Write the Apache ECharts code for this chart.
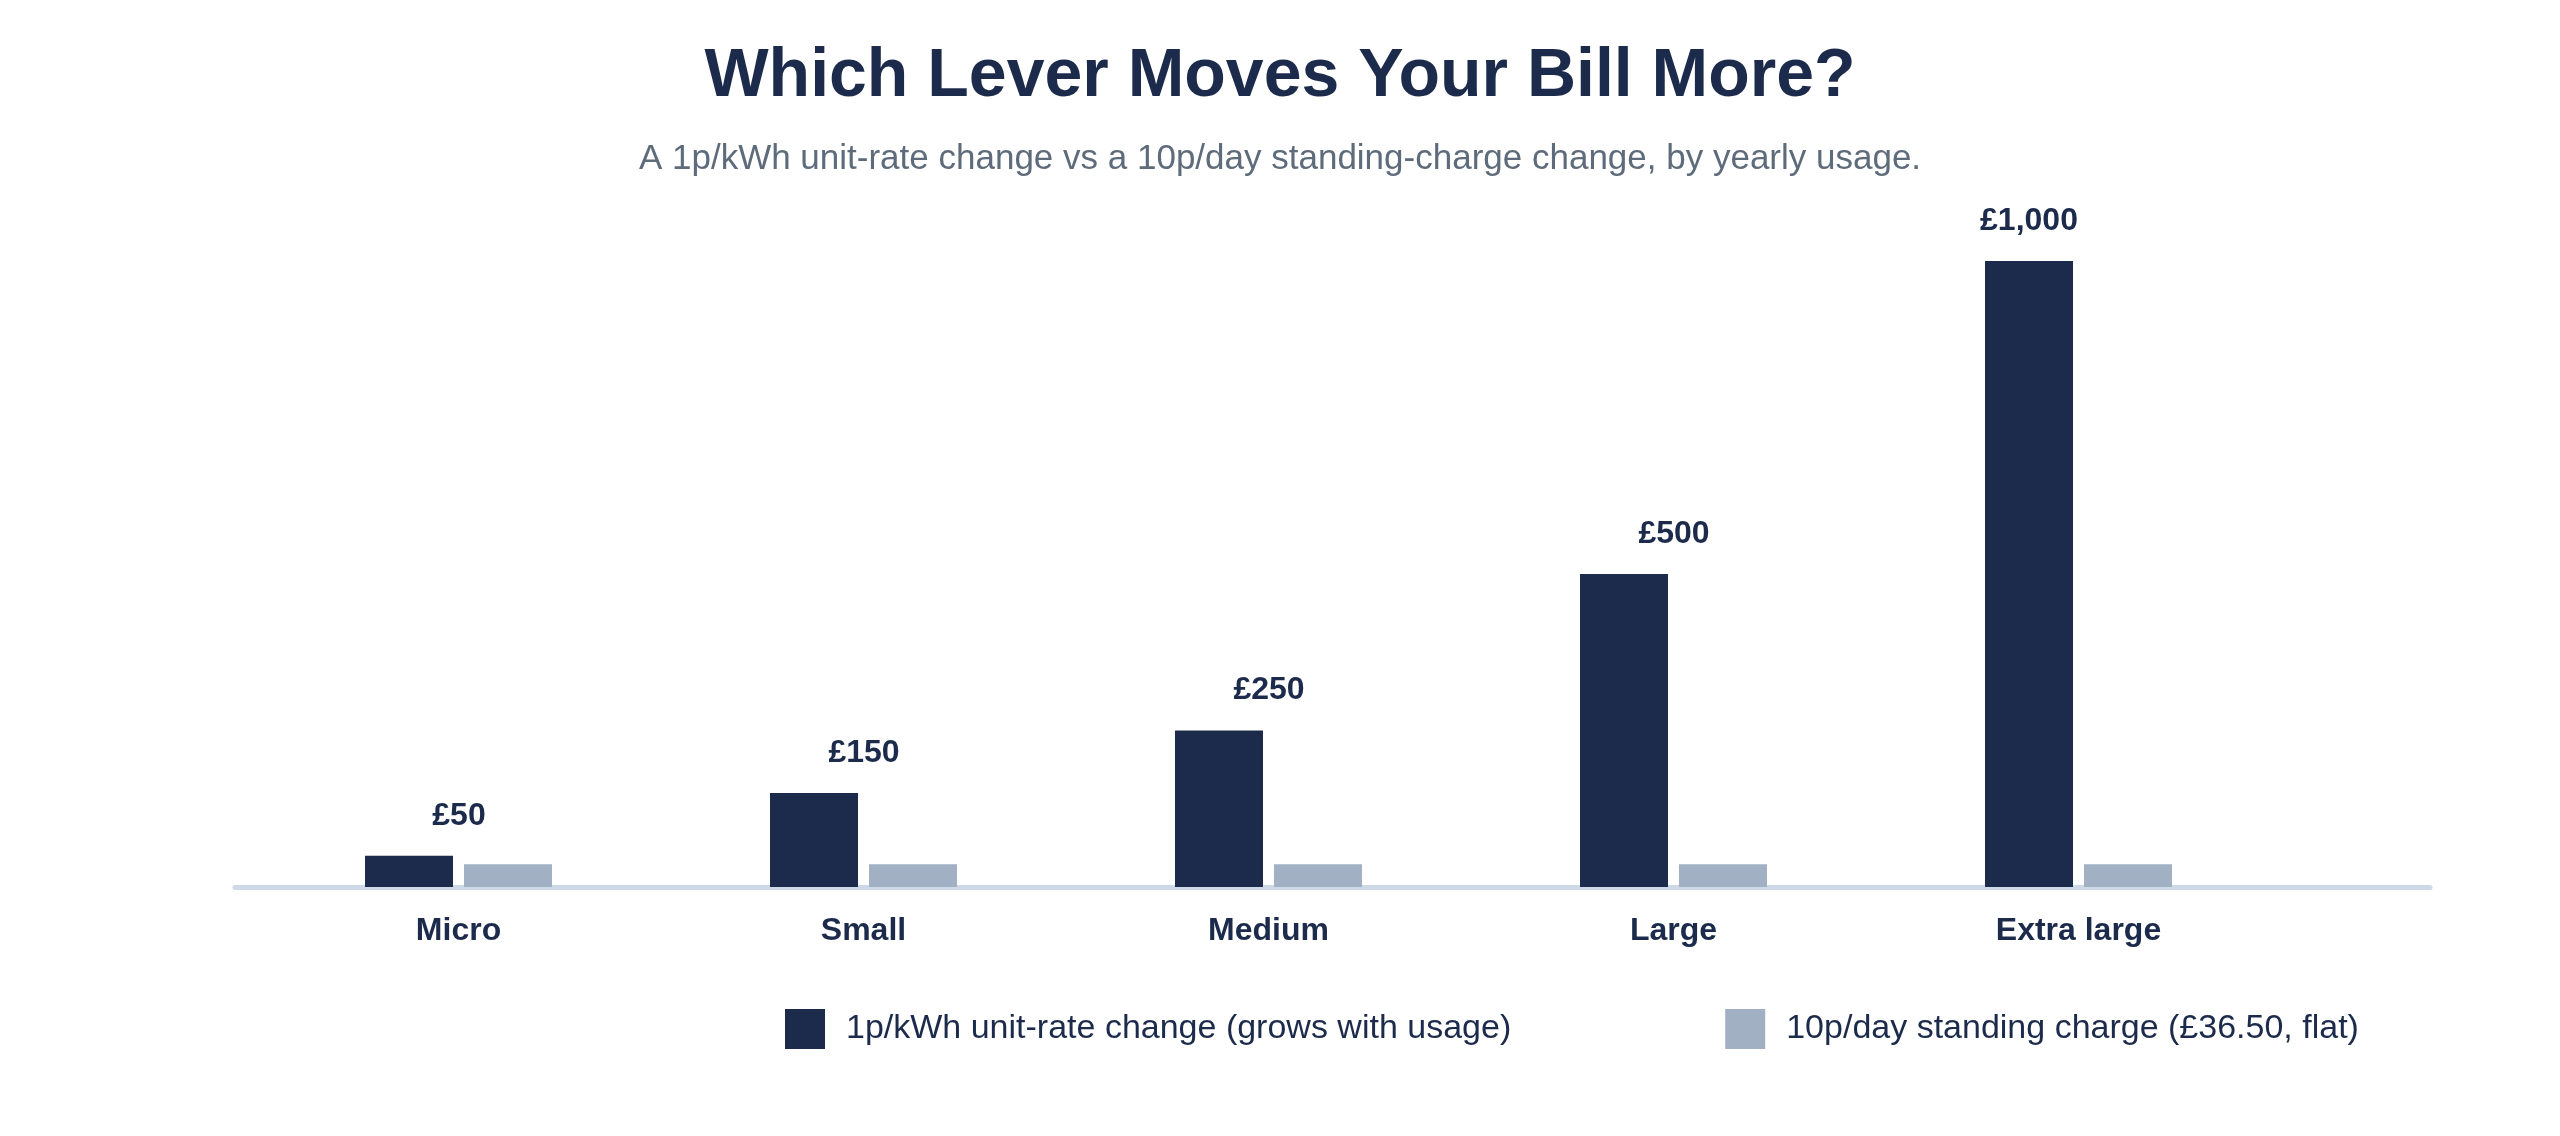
<!DOCTYPE html>
<html>
<head>
<meta charset="utf-8">
<title>Which Lever Moves Your Bill More?</title>
<script src="https://cdn.jsdelivr.net/npm/echarts@6/dist/echarts.min.js"></script>
<style>
  html, body { margin: 0; padding: 0; background: #ffffff; }
  #chart { width: 2560px; height: 1136px; }
</style>
</head>
<body>
<div id="chart"></div>
<script>
const categories = ['Micro', 'Small', 'Medium', 'Large', 'Extra large'];
const unitRateChange = [50, 150, 250, 500, 1000];
const standingCharge = [36.5, 36.5, 36.5, 36.5, 36.5];
const seriesNames = [
  '1p/kWh unit-rate change (grows with usage)',
  '10p/day standing charge (£36.50, flat)'
];

const NAVY = '#1c2b4b';
const SLATE = '#a1b0c2';
const FONT = '"Liberation Sans", Arial, sans-serif';

const chart = echarts.init(document.getElementById('chart'));

// labels sit over the pair centre, except the tallest one which sits over its own bar
const unitRateData = unitRateChange.map(function (v, i) {
  if (i === unitRateChange.length - 1) {
    return { value: v, label: { offset: [0, 0] } };
  }
  return v;
});

const option = {
  backgroundColor: '#ffffff',
  textStyle: { fontFamily: FONT },
  title: [{
    text: 'Which Lever Moves Your Bill More?',
    left: 'center',
    top: 38,
    textStyle: { fontSize: 68, fontWeight: 'bold', color: NAVY, fontFamily: FONT }
  }, {
    text: 'A 1p/kWh unit-rate change vs a 10p/day standing-charge change, by yearly usage.',
    left: 'center',
    top: 137,
    textStyle: { fontSize: 35, fontWeight: 'normal', color: '#5e6b7b', fontFamily: FONT }
  }],
  color: [NAVY, SLATE],
  legend: {
    data: seriesNames,
    left: 780,
    top: 1004,
    itemWidth: 40,
    itemHeight: 40,
    itemGap: 214,
    icon: 'rect',
    textStyle: { fontSize: 34, color: NAVY, fontFamily: FONT, padding: [0, 0, 0, 16] }
  },
  grid: [{
    left: 256,
    right: 279,
    top: 261,
    bottom: 249
  }, {
    // wider grid that only carries the baseline
    left: 235,
    right: 130,
    top: 261,
    bottom: 249
  }],
  xAxis: [{
    gridIndex: 0,
    type: 'category',
    data: categories,
    axisLine: { show: false },
    axisTick: { show: false },
    axisLabel: {
      margin: 28,
      fontSize: 32,
      fontWeight: 'bold',
      color: NAVY,
      fontFamily: FONT
    }
  }, {
    gridIndex: 1,
    type: 'value',
    min: 0,
    max: 1,
    axisLine: { show: true, lineStyle: { color: '#cdd9e6', width: 5 } },
    axisTick: { show: false },
    axisLabel: { show: false },
    splitLine: { show: false }
  }],
  yAxis: [{
    gridIndex: 0,
    type: 'value',
    min: 0,
    max: 1000,
    show: false
  }, {
    gridIndex: 1,
    type: 'value',
    min: 0,
    max: 1,
    show: false
  }],
  series: [{
    name: seriesNames[0],
    type: 'bar',
    xAxisIndex: 0,
    yAxisIndex: 0,
    data: unitRateData,
    barWidth: 88,
    barGap: '12.5%',
    z: 3,
    itemStyle: { color: NAVY },
    label: {
      show: true,
      position: 'top',
      distance: 24,
      offset: [50, 0],
      fontSize: 32,
      fontWeight: 'bold',
      color: NAVY,
      fontFamily: FONT,
      formatter: function (p) {
        return '£' + p.value.toLocaleString('en-GB');
      }
    }
  }, {
    name: seriesNames[1],
    type: 'bar',
    xAxisIndex: 0,
    yAxisIndex: 0,
    data: standingCharge,
    barWidth: 88,
    z: 3,
    itemStyle: { color: SLATE }
  }]
};

chart.setOption(option);
</script>
</body>
</html>
